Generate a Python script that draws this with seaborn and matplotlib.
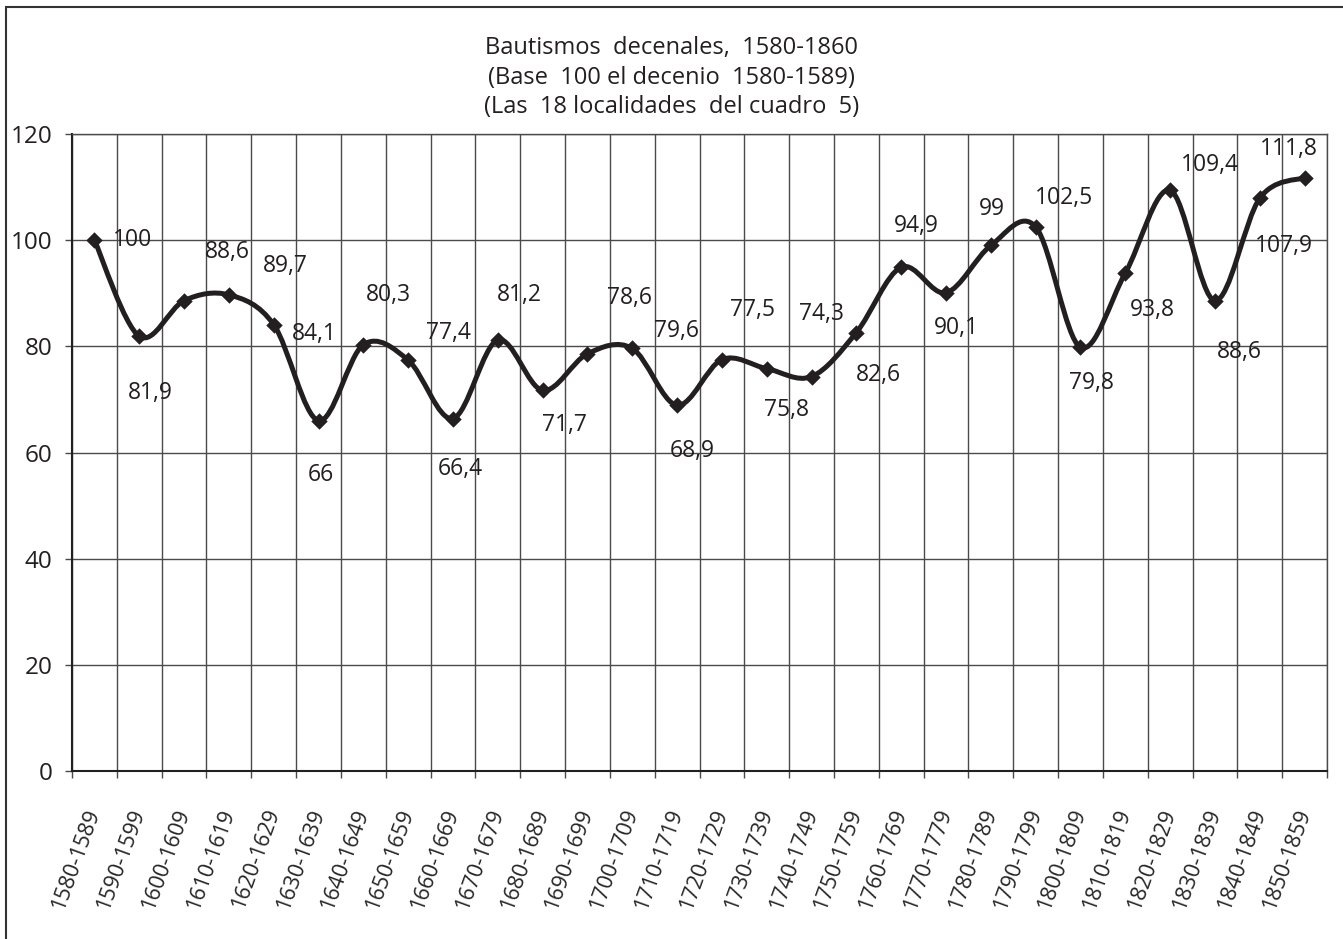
import numpy as np
import matplotlib
matplotlib.use("Agg")
import matplotlib.pyplot as plt
from matplotlib.path import Path
from matplotlib.patches import PathPatch, Rectangle
import seaborn as sns

# data
decades = ["1580-1589", "1590-1599", "1600-1609", "1610-1619", "1620-1629",
           "1630-1639", "1640-1649", "1650-1659", "1660-1669", "1670-1679",
           "1680-1689", "1690-1699", "1700-1709", "1710-1719", "1720-1729",
           "1730-1739", "1740-1749", "1750-1759", "1760-1769", "1770-1779",
           "1780-1789", "1790-1799", "1800-1809", "1810-1819", "1820-1829",
           "1830-1839", "1840-1849", "1850-1859"]
bautismos = [100, 81.9, 88.6, 89.7, 84.1, 66, 80.3, 77.4, 66.4, 81.2,
             71.7, 78.6, 79.6, 68.9, 77.5, 75.8, 74.3, 82.6, 94.9, 90.1,
             99, 102.5, 79.8, 93.8, 109.4, 88.6, 107.9, 111.8]
title_lines = ["Bautismos  decenales,  1580-1860",
               "(Base  100 el decenio  1580-1589)",
               "(Las  18 localidades  del cuadro  5)"]

# label placement (pixel offsets from each marker, as in the original)
label_offsets = [(38, 0), (11, -57), (43, 49), (56, 29), (41, -9), (2, -54),
                 (25, 50), (40, 27), (7, -50), (22, 45), (22, -35), (42, 56),
                 (44, 17), (15, -46), (31, 50), (20, -41), (10, 63), (22, -42),
                 (15, 41), (10, -35), (1, 36), (28, 29), (11, -36), (27, -37),
                 (40, 25), (24, -51), (24, -48), (-16, 29)]

ink = "#231f20"
grid_c = "#4a4a4a"

sns.set_style("white")
plt.rcParams["font.family"] = ["Open Sans", "DejaVu Sans"]
plt.rcParams["text.color"] = ink

fig = plt.figure(figsize=(13.43, 9.39), dpi=100)
ax = fig.add_axes([72 / 1343, 1 - 771 / 939, (1327 - 72) / 1343, (771 - 134) / 939])

x = np.arange(len(bautismos))
y = np.array(bautismos, dtype=float)

# smoothed line (Bezier through the points, like the spreadsheet "smooth line")
verts = [(x[0], y[0])]
codes = [Path.MOVETO]
n = len(x)
for i in range(n - 1):
    p0 = np.array([x[max(i - 1, 0)], y[max(i - 1, 0)]])
    p1 = np.array([x[i], y[i]])
    p2 = np.array([x[i + 1], y[i + 1]])
    p3 = np.array([x[min(i + 2, n - 1)], y[min(i + 2, n - 1)]])
    c1 = p1 + (p2 - p0) / 6
    c2 = p2 - (p3 - p1) / 6
    verts += [tuple(c1), tuple(c2), tuple(p2)]
    codes += [Path.CURVE4] * 3
ax.add_patch(PathPatch(Path(verts, codes), facecolor="none", edgecolor=ink,
                       lw=3.6, capstyle="round", joinstyle="round", zorder=3))

sns.scatterplot(x=x, y=y, marker="D", s=70, color=ink, edgecolor=ink,
                linewidth=0, zorder=4, ax=ax, legend=False)

for xi, yi, v, (dx, dy) in zip(x, y, bautismos, label_offsets):
    txt = f"{v:g}".replace(".", ",")
    ax.annotate(txt, (xi, yi), xytext=(dx, dy), textcoords="offset pixels",
                ha="center", va="center", fontsize=16.5, color=ink, zorder=5)

ax.set_xlim(-0.5, n - 0.5)
ax.set_ylim(0, 120)
ax.set_yticks(range(0, 121, 20))
ax.set_xticks(x)
ax.set_xticklabels(decades, rotation=70, ha="right", va="center",
                   rotation_mode="anchor", fontsize=15.5)
ax.set_xticks(np.arange(-0.5, n, 1), minor=True)
ax.tick_params(axis="x", which="major", length=0, pad=28)
ax.tick_params(axis="x", which="minor", length=5, width=1, color=grid_c,
               direction="out", bottom=True)
ax.tick_params(axis="y", length=5, width=1, color=grid_c, direction="out",
               left=True, pad=9, labelsize=17.5)
for lab in ax.get_yticklabels():
    lab.set_color(ink)

ax.grid(False)
ax.grid(True, axis="x", which="minor", color=grid_c, lw=1)
ax.grid(True, axis="y", which="major", color=grid_c, lw=1)
ax.set_axisbelow(True)
for side in ["top", "right"]:
    ax.spines[side].set_color(grid_c)
    ax.spines[side].set_linewidth(1)
for side in ["left", "bottom"]:
    ax.spines[side].set_color(ink)
    ax.spines[side].set_linewidth(1.5)
ax.set_xlabel("")
ax.set_ylabel("")

for k, line in enumerate(title_lines):
    fig.text(0.5, 1 - (48 + 29.5 * k) / 939, line, ha="center", va="center",
             fontsize=17, color=ink)

# outer chart border
fig.patches.append(Rectangle((6 / 1343, -0.2), 1.2, 1.2 - 7 / 939,
                             transform=fig.transFigure, fill=False,
                             edgecolor="#333333", lw=1.5, clip_on=False))

fig.savefig("out.png", dpi=100)
